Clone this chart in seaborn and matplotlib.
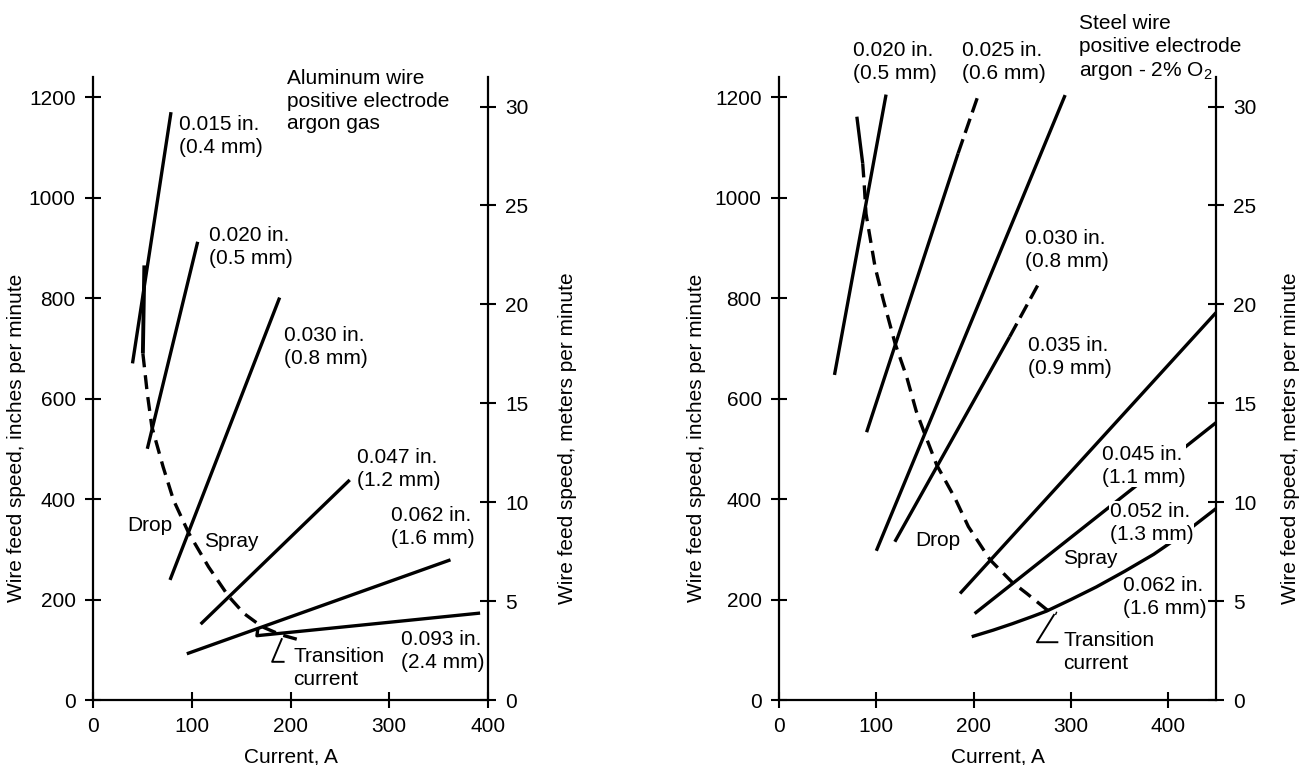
import matplotlib
matplotlib.use("Agg")
import matplotlib.pyplot as plt
import seaborn as sns

IN_PER_M = 39.37  # inches per meter, for the right-hand axis

# -------------------------
# Aluminum wire (left panel): current A vs wire feed in/min
# -------------------------
al_015_x = [40, 79]
al_015_y = [670, 1170]
al_020_x = [55, 106]
al_020_y = [500, 912]
al_030_x = [78, 189]
al_030_y = [239, 801]
al_047_x = [109, 260]
al_047_y = [151, 438]
al_062_x = [95, 362]
al_062_y = [92, 279]
al_093_x = [167, 166, 392]
al_093_y = [143, 128, 173]
# transition curve: first segment solid, rest dashed
al_trans_x = [52, 50.5, 55, 59.6, 71, 81.5, 97, 117, 137, 153, 171, 190, 210]
al_trans_y = [865, 690, 610, 544, 464, 398, 332, 265, 207, 172, 146, 130, 119]
al_lead_x = [191.5, 181.4, 194]
al_lead_y = [123, 76, 76]

# -------------------------
# Steel wire (right panel)
# -------------------------
st_020_x = [57, 110]
st_020_y = [647, 1205]
st_025_x = [90, 184]
st_025_y = [533, 1088]
st_025_dash_x = [184, 204]
st_025_dash_y = [1088, 1200]
st_030_x = [100, 294]
st_030_y = [297, 1204]
st_035_x = [119, 237]
st_035_y = [315, 723]
st_035_dash_x = [237, 266]
st_035_dash_y = [723, 826]
st_045_x = [186, 449]
st_045_y = [212, 771]
st_052_x = [201, 449]
st_052_y = [172, 552]
st_062_x = [198, 220, 240, 260, 275, 300, 326, 355, 385, 415, 449]
st_062_y = [126, 139, 152, 166, 177, 200, 225, 256, 290, 330, 381]
st_trans_x = [80, 86, 87.4, 89.4, 98.7, 107.2, 119.2, 131.2, 141, 148.3, 162, 181,
              194.6, 216.9, 239.2, 254.6, 275, 285.4]
st_trans_y = [1161, 1068, 1031, 968, 862, 796, 710, 643, 575, 537, 468, 401,
              345, 279, 235, 212, 180, 172]
st_lead_x = [283, 265, 287]
st_lead_y = [171, 115, 115]

# label text, (x, y) in data units
al_labels = [
    ("0.015 in.\n(0.4 mm)", 86.6, 1122),
    ("0.020 in.\n(0.5 mm)", 117, 902),
    ("0.030 in.\n(0.8 mm)", 193, 703),
    ("0.047 in.\n(1.2 mm)", 267, 460),
    ("0.062 in.\n(1.6 mm)", 302, 345),
    ("0.093 in.\n(2.4 mm)", 312, 98),
]
st_labels = [
    ("0.020 in.\n(0.5 mm)", 75.7, 1270),
    ("0.025 in.\n(0.6 mm)", 187.7, 1270),
    ("0.030 in.\n(0.8 mm)", 253, 895),
    ("0.035 in.\n(0.9 mm)", 256, 683),
    ("0.045 in.\n(1.1 mm)", 332, 466),
    ("0.052 in.\n(1.3 mm)", 340, 353),
    ("0.062 in.\n(1.6 mm)", 353, 205),
]

sns.set_style("ticks")
plt.rcParams["font.family"] = ["Liberation Sans", "DejaVu Sans"]
plt.rcParams["mathtext.fontset"] = "custom"
plt.rcParams["mathtext.rm"] = "Liberation Sans"
for key in ["text.color", "axes.labelcolor", "xtick.color", "ytick.color",
            "axes.edgecolor"]:
    plt.rcParams[key] = "black"
FS = 15
LW = 2.4
DASH = (0, (4.2, 2.4))

fig = plt.figure(figsize=(13.03, 7.65), dpi=100)
ax1 = fig.add_axes([93 / 1303, 65 / 765, 395 / 1303, 623 / 765])
ax2 = fig.add_axes([779 / 1303, 65 / 765, 437 / 1303, 623 / 765])


def draw(ax, x, y, ls="-", lw=LW):
    sns.lineplot(x=x, y=y, ax=ax, color="black", linewidth=lw, linestyle=ls,
                 sort=False, estimator=None, solid_capstyle="butt", zorder=2)


# left panel lines
for xs, ys in [(al_015_x, al_015_y), (al_020_x, al_020_y), (al_030_x, al_030_y),
               (al_047_x, al_047_y), (al_062_x, al_062_y), (al_093_x, al_093_y)]:
    draw(ax1, xs, ys)
draw(ax1, al_trans_x[:2], al_trans_y[:2], lw=2.8)
draw(ax1, al_trans_x[1:], al_trans_y[1:], ls=DASH)
draw(ax1, al_lead_x, al_lead_y, lw=1.4)

# right panel lines
for xs, ys in [(st_020_x, st_020_y), (st_025_x, st_025_y), (st_030_x, st_030_y),
               (st_035_x, st_035_y), (st_045_x, st_045_y), (st_052_x, st_052_y),
               (st_062_x, st_062_y)]:
    draw(ax2, xs, ys)
draw(ax2, st_025_dash_x, st_025_dash_y, ls=(0, (4.5, 2)))
draw(ax2, st_035_dash_x, st_035_dash_y, ls=(0, (4.5, 2)))
draw(ax2, st_trans_x[:2], st_trans_y[:2])
draw(ax2, st_trans_x[1:], st_trans_y[1:], ls=DASH)
draw(ax2, st_lead_x, st_lead_y, lw=1.4)

box = dict(facecolor="white", edgecolor="none", pad=0.5)
for txt, x, y in al_labels:
    ax1.text(x, y, txt, fontsize=FS, ha="left", va="center", linespacing=1.25,
             bbox=box, zorder=3)
for txt, x, y in st_labels:
    ax2.text(x, y, txt, fontsize=FS, ha="left", va="center", linespacing=1.25,
             bbox=box, zorder=3)

ax1.text(196.6, 1192, "Aluminum wire\npositive electrode\nargon gas", fontsize=FS,
         ha="left", va="center", linespacing=1.25)
ax2.text(308.6, 1298, "Steel wire\npositive electrode\nargon - 2% O$\\mathregular{_2}$",
         fontsize=FS, ha="left", va="center", linespacing=1.25)

ax1.text(79.9, 348, "Drop", fontsize=FS, ha="right", va="center")
ax1.text(112.7, 315, "Spray", fontsize=FS, ha="left", va="center")
ax1.text(203, 63, "Transition\ncurrent", fontsize=FS, ha="left", va="center",
         linespacing=1.25)
ax2.text(139.8, 318, "Drop", fontsize=FS, ha="left", va="center")
ax2.text(291.5, 282, "Spray", fontsize=FS, ha="left", va="center")
ax2.text(292.2, 96, "Transition\ncurrent", fontsize=FS, ha="left", va="center",
         linespacing=1.25)

for ax, xmax, lx, rx in [(ax1, 400, -0.17, 1.177), (ax2, 449, -0.167, 1.149)]:
    ax.set_xlim(0, xmax)
    ax.set_ylim(0, 1240)
    ax.set_xticks([0, 100, 200, 300, 400])
    ax.set_yticks([0, 200, 400, 600, 800, 1000, 1200])
    ax.spines["top"].set_visible(False)
    ax.spines["right"].set_visible(False)
    for s in ["left", "bottom"]:
        ax.spines[s].set_linewidth(1.6)
    ax.tick_params(direction="inout", length=11, width=1.5, labelsize=FS, pad=7)
    ax.set_xlabel("Current, A", fontsize=FS, labelpad=8)
    ax.set_ylabel("Wire feed speed, inches per minute", fontsize=FS)
    ax.yaxis.set_label_coords(lx, 0.42)

    sec = ax.secondary_yaxis("right", functions=(lambda v: v / IN_PER_M,
                                                 lambda m: m * IN_PER_M))
    sec.set_yticks([0, 5, 10, 15, 20, 25, 30])
    sec.spines["right"].set_linewidth(1.6)
    sec.tick_params(direction="inout", length=11, width=1.5, labelsize=FS, pad=7)
    sec.set_ylabel("Wire feed speed, meters per minute", fontsize=FS)
    sec.yaxis.set_label_coords(rx, 0.42, transform=ax.transAxes)

fig.savefig("out.png", dpi=100)
